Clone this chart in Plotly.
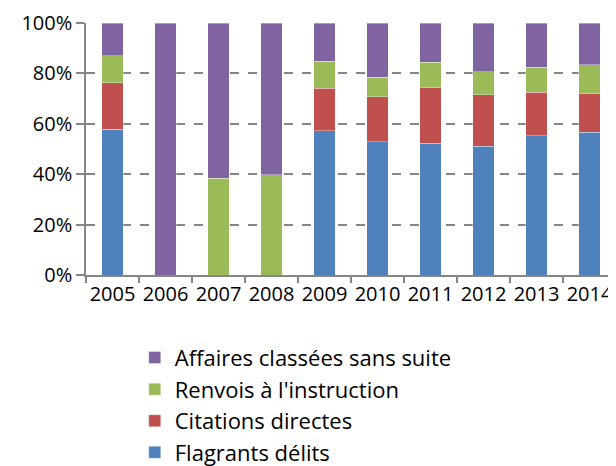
import plotly.graph_objects as go

years = ["2005", "2006", "2007", "2008", "2009", "2010", "2011", "2012", "2013", "2014"]

flagrants = [57.9, 0, 0, 0, 57.3, 52.9, 52.2, 51.1, 55.2, 56.6]
citations = [18.4, 0, 0, 0, 16.8, 17.9, 22.1, 20.5, 17.4, 15.3]
renvois = [10.7, 0, 38.4, 39.7, 10.7, 7.6, 10.2, 9.1, 9.9, 11.5]
classees = [13.0, 100, 61.6, 60.3, 15.2, 21.6, 15.5, 19.3, 17.5, 16.6]

pct_ticks = [0, 20, 40, 60, 80, 100]
pct_labels = ["0%", "20%", "40%", "60%", "80%", "100%"]

series = [
    ("Flagrants délits", flagrants, "#4F81BD"),
    ("Citations directes", citations, "#C0504D"),
    ("Renvois à l'instruction", renvois, "#9BBB59"),
    ("Affaires classées sans suite", classees, "#8064A2"),
]

font = "'Open Sans', Lato, sans-serif"

fig = go.Figure()
for name, vals, color in series:
    fig.add_trace(
        go.Bar(
            x=years,
            y=vals,
            name=name,
            marker=dict(color=color, line=dict(color="rgba(255,255,255,0.35)", width=1)),
        )
    )

# the page body has an 8px margin, so the figure is 8px smaller and shifted
fig.update_layout(
    barmode="stack",
    bargap=0.6,
    width=608,
    height=458,
    margin=dict(l=78, r=0, t=15, b=191, autoexpand=False),
    paper_bgcolor="white",
    plot_bgcolor="white",
    font=dict(family=font, size=20, color="black"),
    showlegend=True,
    legend=dict(
        traceorder="reversed",
        x=0.092,
        xanchor="left",
        y=-0.245,
        yanchor="top",
        font=dict(size=22),
        tracegroupgap=0,
        itemwidth=30,
    ),
)

fig.update_xaxes(
    type="category",
    automargin=False,
    tickangle=0,
    tickfont=dict(size=20),
    showline=True,
    linecolor="#868686",
    linewidth=1.5,
    ticks="outside",
    tickson="boundaries",
    ticklen=6,
    tickcolor="#868686",
    tickwidth=1.5,
    showgrid=False,
)

fig.update_yaxes(
    range=[0, 100],
    automargin=False,
    tickvals=pct_ticks,
    ticktext=pct_labels,
    tickfont=dict(size=20),
    showline=True,
    linecolor="#868686",
    linewidth=1.5,
    ticks="outside",
    ticklen=8,
    tickcolor="#868686",
    tickwidth=1.5,
    showgrid=True,
    gridcolor="#868686",
    gridwidth=1.5,
    griddash="dash",
    zeroline=False,
)

fig.write_html("out.html")
